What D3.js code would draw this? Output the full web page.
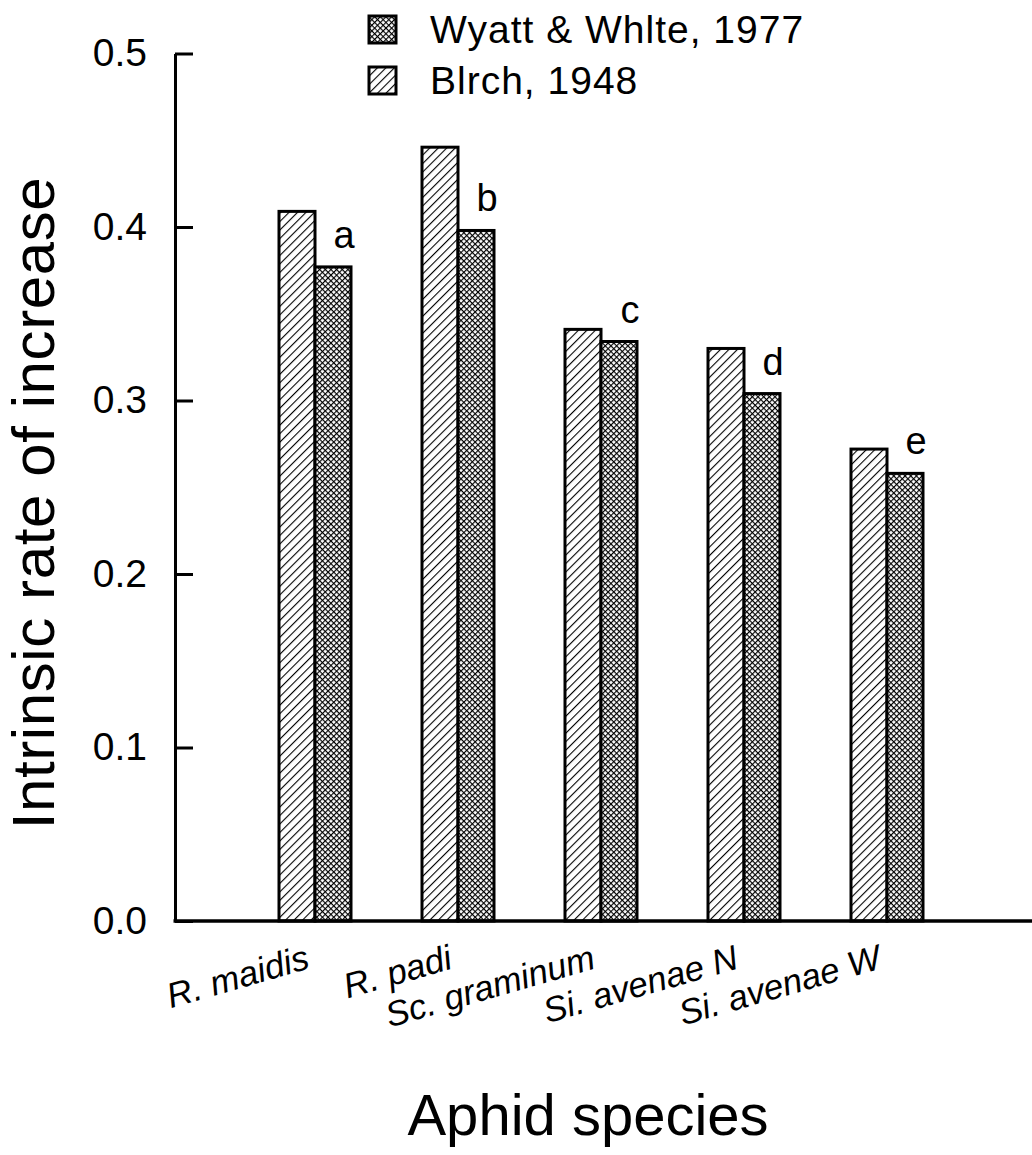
<!DOCTYPE html>
<meta charset='utf-8'>
<style>
  body { margin: 0; background: #fff; }
  text { font-family: 'Liberation Sans', Arial, sans-serif; fill: #000; }
  .cat { font-style: italic; }
</style>
<svg width='1032' height='1155'></svg>
<script src='https://cdn.jsdelivr.net/npm/d3@7/dist/d3.min.js'></script>
<script>
  // data
  var species = ['R. maidis', 'R. padi', 'Sc. graminum', 'Si. avenae N', 'Si. avenae W'];
  var birch = [0.409, 0.446, 0.341, 0.330, 0.272];
  var wyatt = [0.377, 0.398, 0.334, 0.304, 0.258];
  var letters = ['a', 'b', 'c', 'd', 'e'];
  var yTicks = [0, 0.1, 0.2, 0.3, 0.4, 0.5];
  var legendLabels = ['Wyatt & Whlte, 1977', 'Blrch, 1948'];

  var svg = d3.select('svg'),
    width = +svg.attr('width'),
    height = +svg.attr('height');

  var x0 = 175, yBase = 921, yTop = 53.5, barW = 36;

  var x = d3.scalePoint().domain(species).range([315, 887]);
  var y = d3.scaleLinear().domain([0, 0.5]).range([yBase, yTop]);

  // fill patterns
  var defs = svg.append('defs');
  var hatch = defs.append('pattern')
    .attr('id', 'hatch')
    .attr('patternUnits', 'userSpaceOnUse')
    .attr('width', 6).attr('height', 6)
    .attr('patternTransform', 'rotate(45)');
  hatch.append('rect').attr('width', 6).attr('height', 6).attr('fill', '#fff');
  hatch.append('line')
    .attr('x1', 0).attr('y1', 0).attr('x2', 0).attr('y2', 6)
    .attr('stroke', '#000').attr('stroke-width', 2.2);

  var dots = defs.append('pattern')
    .attr('id', 'dots')
    .attr('patternUnits', 'userSpaceOnUse')
    .attr('width', 4).attr('height', 4)
    .attr('patternTransform', 'rotate(45)');
  dots.append('rect').attr('width', 4).attr('height', 4).attr('fill', '#fff');
  dots.append('line').attr('x1', 0).attr('y1', 0).attr('x2', 4).attr('y2', 0)
    .attr('stroke', '#000').attr('stroke-width', 2.3);
  dots.append('line').attr('x1', 0).attr('y1', 0).attr('x2', 0).attr('y2', 4)
    .attr('stroke', '#000').attr('stroke-width', 2.3);

  // bars
  var groups = svg.append('g').selectAll('g')
    .data(species)
    .enter().append('g');

  groups.append('rect')
    .attr('x', (d) => x(d) - barW)
    .attr('y', (d, i) => y(birch[i]))
    .attr('width', barW)
    .attr('height', (d, i) => yBase - y(birch[i]))
    .attr('fill', 'url(#hatch)')
    .attr('stroke', '#000').attr('stroke-width', 3);

  groups.append('rect')
    .attr('x', (d) => x(d))
    .attr('y', (d, i) => y(wyatt[i]))
    .attr('width', barW)
    .attr('height', (d, i) => yBase - y(wyatt[i]))
    .attr('fill', 'url(#dots)')
    .attr('stroke', '#000').attr('stroke-width', 3);

  groups.append('text')
    .attr('x', (d) => x(d) + barW / 2 + 11)
    .attr('y', (d, i) => y(wyatt[i]) - 19)
    .attr('text-anchor', 'middle')
    .attr('font-size', 38)
    .text((d, i) => letters[i]);

  // axes
  var yAxis = svg.append('g')
    .attr('transform', 'translate(' + x0 + ',0)')
    .call(d3.axisLeft(y).tickValues(yTicks).tickFormat(d3.format('.1f'))
      .tickSize(-18).tickSizeOuter(0).tickPadding(28));
  yAxis.select('.domain').attr('stroke-width', 3);
  yAxis.selectAll('.tick line').attr('stroke-width', 3);
  yAxis.selectAll('.tick text')
    .attr('font-size', 39)
    .attr('font-family', "'Liberation Sans', Arial, sans-serif");

  svg.append('line')
    .attr('x1', x0 - 1.5).attr('x2', width)
    .attr('y1', yBase).attr('y2', yBase)
    .attr('stroke', '#000').attr('stroke-width', 3.5);

  // category labels, slanted
  svg.append('g').selectAll('text')
    .data(species)
    .enter().append('text')
    .attr('class', 'cat')
    .attr('text-anchor', 'end')
    .attr('font-size', 35)
    .attr('transform', (d) => 'translate(' + (x(d) - 4) + ',968) rotate(-16)')
    .text((d) => d);

  // axis titles
  svg.append('text')
    .attr('x', 588).attr('y', 1135)
    .attr('text-anchor', 'middle')
    .attr('font-size', 58)
    .text('Aphid species');

  svg.append('text')
    .attr('transform', 'translate(54,503) rotate(-90)')
    .attr('text-anchor', 'middle')
    .attr('font-size', 60)
    .attr('letter-spacing', 0.6)
    .text('Intrinsic rate of increase');

  // legend
  var legendFills = ['url(#dots)', 'url(#hatch)'];
  var legend = svg.append('g').selectAll('g')
    .data(legendLabels)
    .enter().append('g')
    .attr('transform', (d, i) => 'translate(369,' + (16 + i * 51) + ')');
  legend.append('rect')
    .attr('width', 27).attr('height', 27)
    .attr('fill', (d, i) => legendFills[i])
    .attr('stroke', '#000').attr('stroke-width', 3);
  legend.append('text')
    .attr('x', 61).attr('y', 27)
    .attr('font-size', 39)
    .attr('letter-spacing', 1)
    .text((d) => d);
</script>
